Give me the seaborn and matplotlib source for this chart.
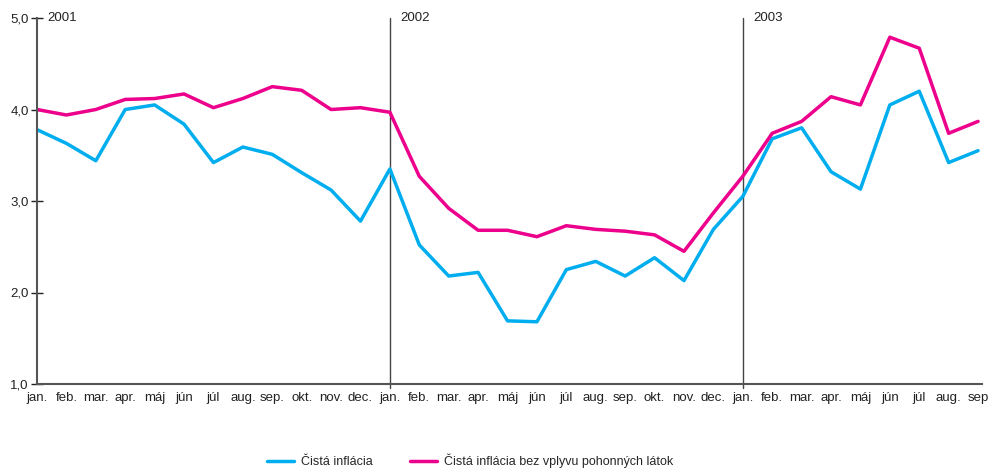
import numpy as np
import pandas as pd
import matplotlib
matplotlib.use("Agg")
import matplotlib.pyplot as plt
import seaborn as sns

# Month labels (jan 2001 .. sep 2003)
month_names = ["jan.", "feb.", "mar.", "apr.", "máj", "jún", "júl",
               "aug.", "sep.", "okt.", "nov.", "dec."]
tick_labels = month_names * 2 + month_names[:8] + ["sep"]
years = ["2001", "2002", "2003"]

# Čistá inflácia
core = [3.78, 3.63, 3.44, 4.00, 4.05, 3.84, 3.42, 3.59, 3.51, 3.31, 3.12, 2.78,
        3.35, 2.52, 2.18, 2.22, 1.69, 1.68, 2.25, 2.34, 2.18, 2.38, 2.13, 2.69,
        3.05, 3.68, 3.80, 3.32, 3.13, 4.05, 4.20, 3.42, 3.55]
# Čistá inflácia bez vplyvu pohonných látok
core_ex_fuel = [4.00, 3.94, 4.00, 4.11, 4.12, 4.17, 4.02, 4.12, 4.25, 4.21, 4.00, 4.02,
                3.97, 3.27, 2.92, 2.68, 2.68, 2.61, 2.73, 2.69, 2.67, 2.63, 2.45, 2.87,
                3.27, 3.74, 3.87, 4.14, 4.05, 4.79, 4.67, 3.74, 3.87]

series_names = ["Čistá inflácia", "Čistá inflácia bez vplyvu pohonných látok"]
colors = ["#00aeef", "#ec008c"]

n = len(core)
df = pd.DataFrame({
    "t": list(range(n)) * 2,
    "value": core + core_ex_fuel,
    "series": [series_names[0]] * n + [series_names[1]] * n,
})

sns.set_theme(style="white")
plt.rcParams["font.family"] = ["Liberation Sans", "DejaVu Sans"]

fig = plt.figure(figsize=(9.89, 4.68), dpi=100)
ax = fig.add_axes([0.0374, 0.1795, 0.956, 0.782])

sns.lineplot(data=df, x="t", y="value", hue="series", palette=colors,
             linewidth=2.5, ax=ax, legend=False)

axis_col = "#555555"
fs = 9.5
ax.set_xlim(0, n - 1 + 0.15)
ax.set_ylim(1.0, 5.0)
ax.set_yticks([1, 2, 3, 4, 5])
ax.set_yticklabels([f"{v:.1f}".replace(".", ",") for v in [1, 2, 3, 4, 5]])
ax.set_xticks(range(n))
ax.set_xticklabels(tick_labels)
ax.tick_params(axis="y", left=True, direction="inout", length=8, width=1,
               color="#222222", labelsize=fs, pad=2, labelcolor="#222222")
ax.tick_params(axis="x", bottom=False, length=0, labelsize=fs, pad=6,
               labelcolor="#222222")
ax.set_xlabel("")
ax.set_ylabel("")
for side in ["top", "right"]:
    ax.spines[side].set_visible(False)
for side in ["left", "bottom"]:
    ax.spines[side].set_color(axis_col)
    ax.spines[side].set_linewidth(1.5)

# Year separators
for i, yr in enumerate(years):
    pos = 12 * i
    if i > 0:
        ax.plot([pos, pos], [0.96, 5.0], color="#444444", linewidth=1,
                clip_on=False, zorder=1)
    ax.text(pos + 0.35, 5.0, yr, fontsize=fs, color="#222222", va="center", ha="left")

handles = [plt.Line2D([], [], color=c, linewidth=2.5) for c in colors]
fig.legend(handles, series_names, loc="lower center", bbox_to_anchor=(0.475, -0.025),
           ncol=2, frameon=False, fontsize=9, handlelength=2.2, handletextpad=0.5,
           columnspacing=3.0)

fig.savefig("out.png", dpi=100)
